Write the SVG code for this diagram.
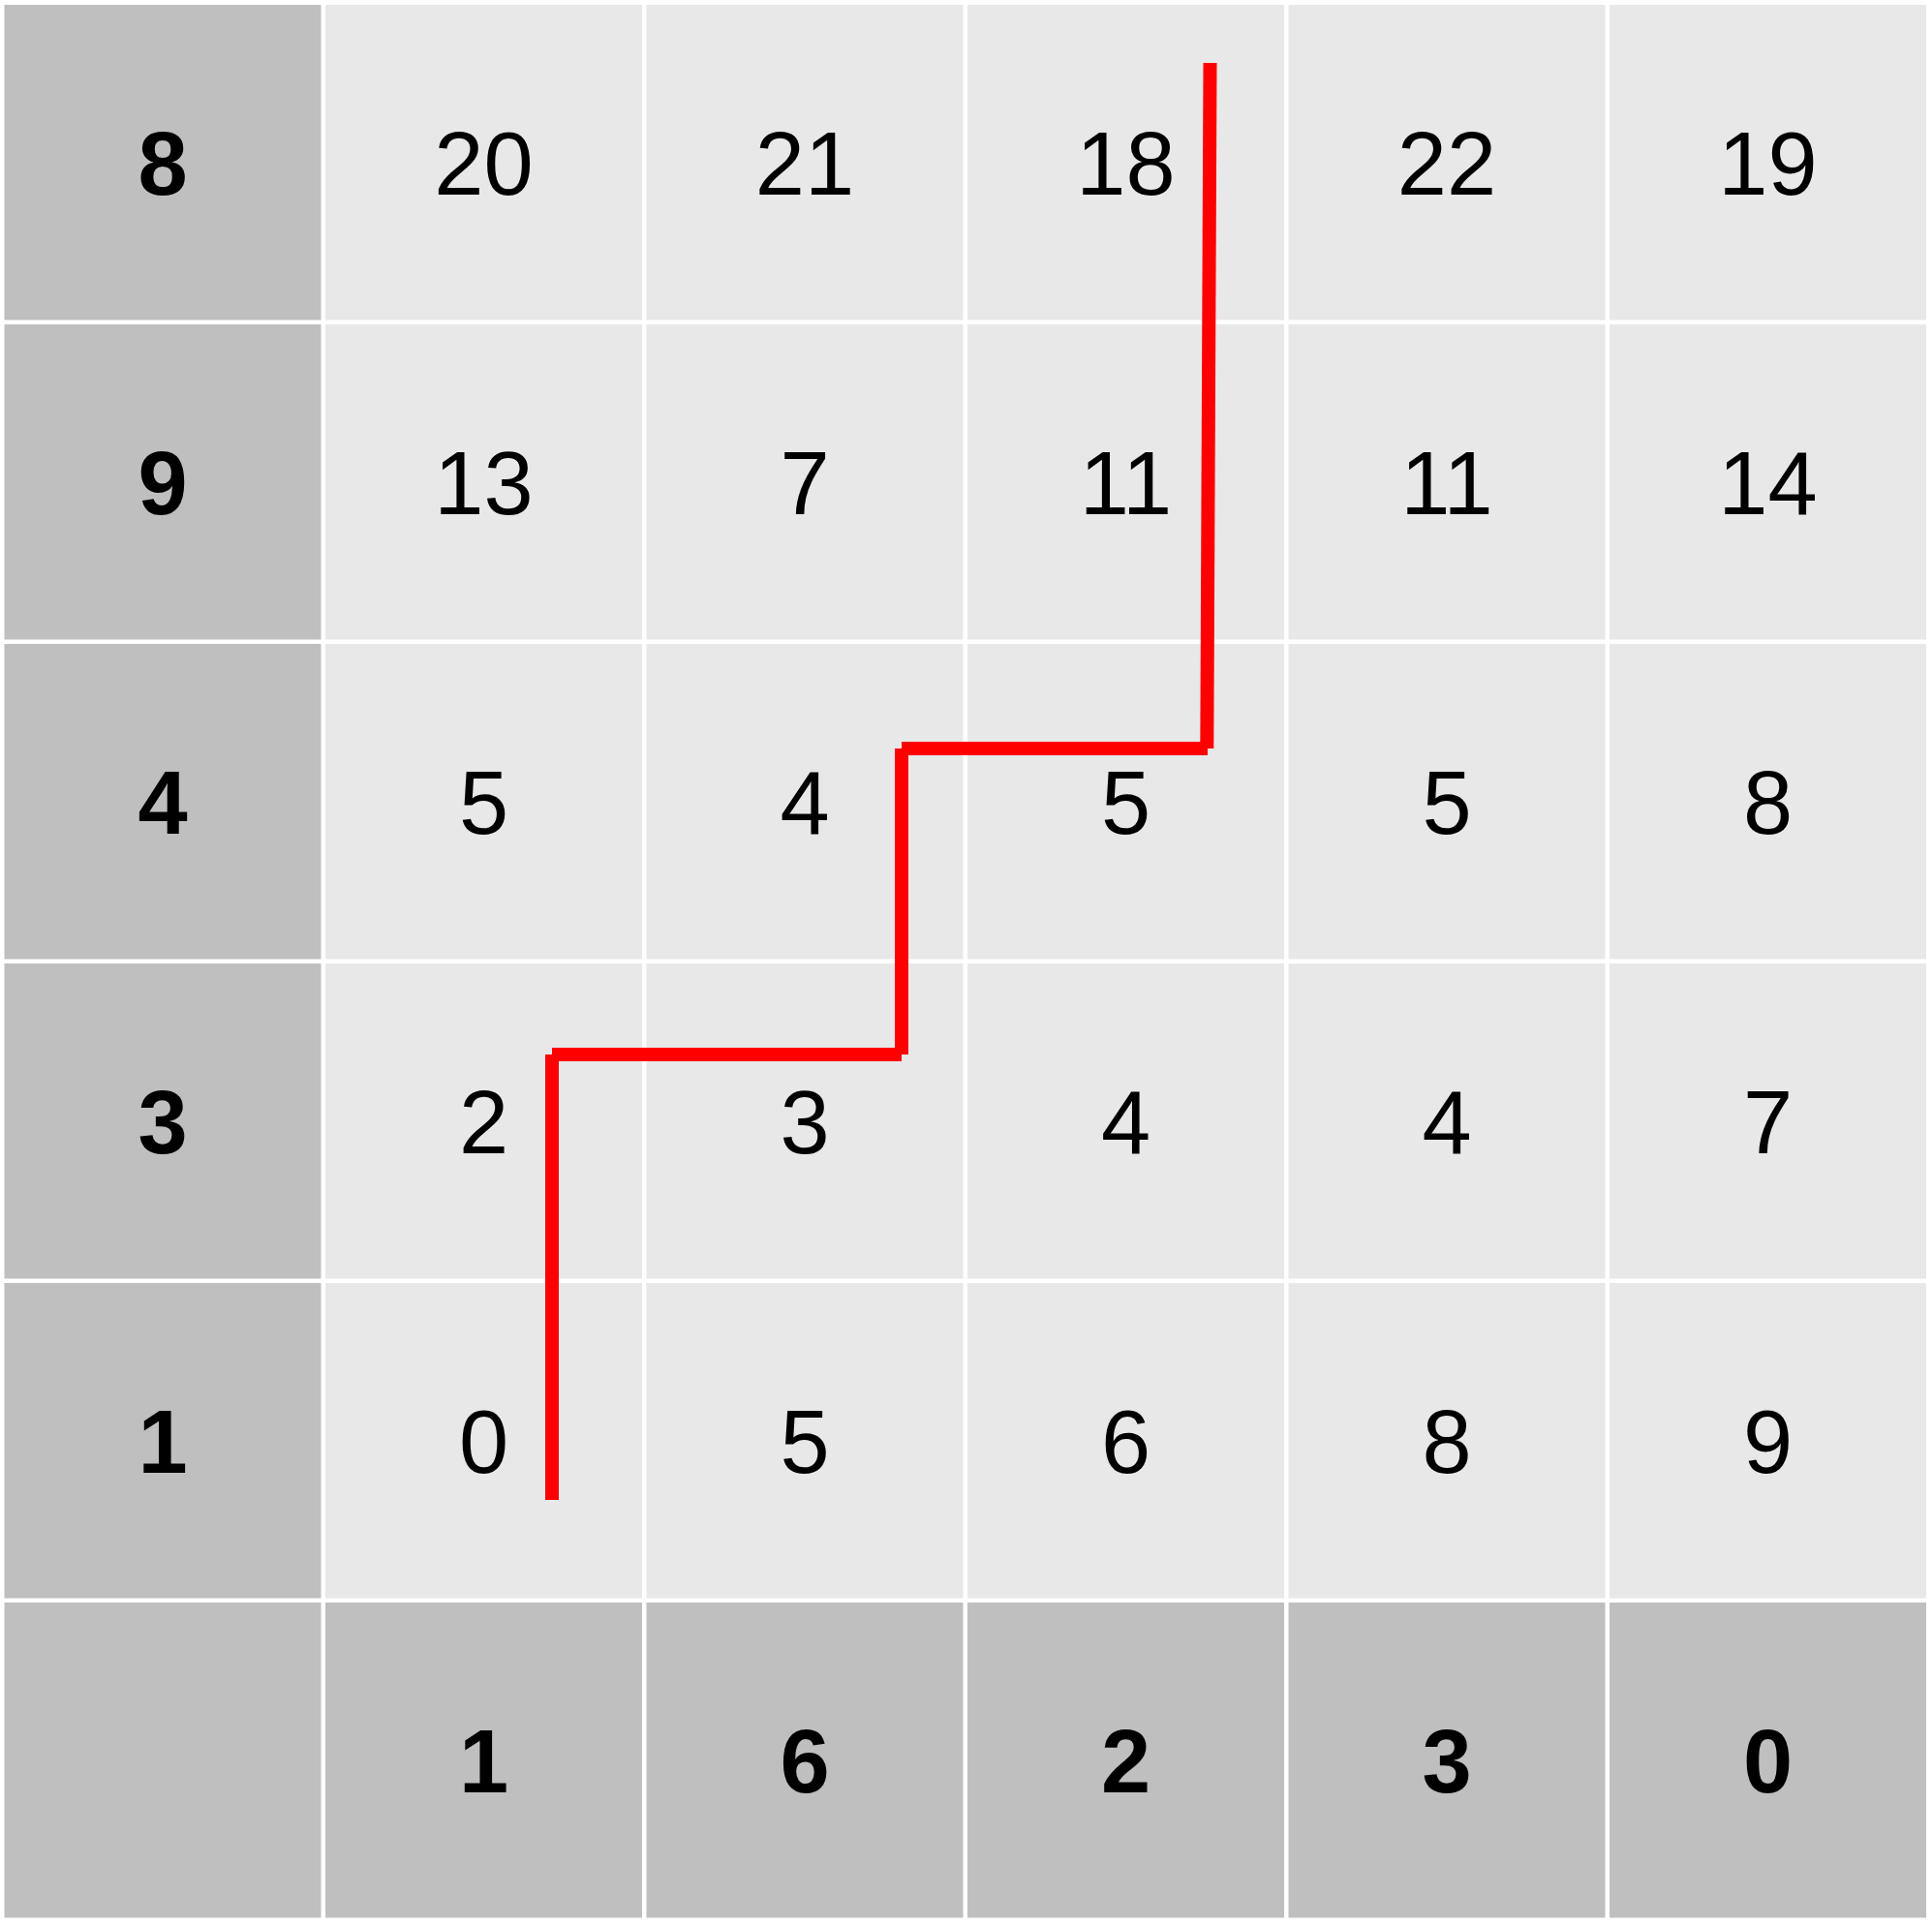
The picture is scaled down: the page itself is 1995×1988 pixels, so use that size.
<svg xmlns="http://www.w3.org/2000/svg" width="1995" height="1988" viewBox="0 0 1995 1988">
<style>
.hd{fill:#bfbfbf}
.cl{fill:#e8e8e8}
text{font-family:"Liberation Sans",Arial,sans-serif;font-size:92px;fill:#000;text-anchor:middle}
.b{font-weight:bold}
.path line{stroke:#ff0000;stroke-width:14;stroke-linecap:butt}
</style>
<rect width="1995" height="1988" fill="#ffffff"/>
<g id="row0">
<g id="r0c0"><rect class="hd" x="4.5" y="5" width="327" height="325.5"/><text class="b" x="168" y="201">8</text></g>
<g id="r0c1"><rect class="cl" x="336" y="5" width="327" height="325.5"/><text x="499.5" y="201">20</text></g>
<g id="r0c2"><rect class="cl" x="667.5" y="5" width="327" height="325.5"/><text x="831" y="201">21</text></g>
<g id="r0c3"><rect class="cl" x="999" y="5" width="327" height="325.5"/><text x="1162.5" y="201">18</text></g>
<g id="r0c4"><rect class="cl" x="1330.5" y="5" width="327" height="325.5"/><text x="1494" y="201">22</text></g>
<g id="r0c5"><rect class="cl" x="1662" y="5" width="327" height="325.5"/><text x="1825.5" y="201">19</text></g>
</g>
<g id="row1">
<g id="r1c0"><rect class="hd" x="4.5" y="335" width="327" height="325.5"/><text class="b" x="168" y="531">9</text></g>
<g id="r1c1"><rect class="cl" x="336" y="335" width="327" height="325.5"/><text x="499.5" y="531">13</text></g>
<g id="r1c2"><rect class="cl" x="667.5" y="335" width="327" height="325.5"/><text x="831" y="531">7</text></g>
<g id="r1c3"><rect class="cl" x="999" y="335" width="327" height="325.5"/><text x="1162.5" y="531">11</text></g>
<g id="r1c4"><rect class="cl" x="1330.5" y="335" width="327" height="325.5"/><text x="1494" y="531">11</text></g>
<g id="r1c5"><rect class="cl" x="1662" y="335" width="327" height="325.5"/><text x="1825.5" y="531">14</text></g>
</g>
<g id="row2">
<g id="r2c0"><rect class="hd" x="4.5" y="665" width="327" height="325.5"/><text class="b" x="168" y="861">4</text></g>
<g id="r2c1"><rect class="cl" x="336" y="665" width="327" height="325.5"/><text x="499.5" y="861">5</text></g>
<g id="r2c2"><rect class="cl" x="667.5" y="665" width="327" height="325.5"/><text x="831" y="861">4</text></g>
<g id="r2c3"><rect class="cl" x="999" y="665" width="327" height="325.5"/><text x="1162.5" y="861">5</text></g>
<g id="r2c4"><rect class="cl" x="1330.5" y="665" width="327" height="325.5"/><text x="1494" y="861">5</text></g>
<g id="r2c5"><rect class="cl" x="1662" y="665" width="327" height="325.5"/><text x="1825.5" y="861">8</text></g>
</g>
<g id="row3">
<g id="r3c0"><rect class="hd" x="4.5" y="995" width="327" height="325.5"/><text class="b" x="168" y="1191">3</text></g>
<g id="r3c1"><rect class="cl" x="336" y="995" width="327" height="325.5"/><text x="499.5" y="1191">2</text></g>
<g id="r3c2"><rect class="cl" x="667.5" y="995" width="327" height="325.5"/><text x="831" y="1191">3</text></g>
<g id="r3c3"><rect class="cl" x="999" y="995" width="327" height="325.5"/><text x="1162.5" y="1191">4</text></g>
<g id="r3c4"><rect class="cl" x="1330.5" y="995" width="327" height="325.5"/><text x="1494" y="1191">4</text></g>
<g id="r3c5"><rect class="cl" x="1662" y="995" width="327" height="325.5"/><text x="1825.5" y="1191">7</text></g>
</g>
<g id="row4">
<g id="r4c0"><rect class="hd" x="4.5" y="1325" width="327" height="325.5"/><text class="b" x="168" y="1521">1</text></g>
<g id="r4c1"><rect class="cl" x="336" y="1325" width="327" height="325.5"/><text x="499.5" y="1521">0</text></g>
<g id="r4c2"><rect class="cl" x="667.5" y="1325" width="327" height="325.5"/><text x="831" y="1521">5</text></g>
<g id="r4c3"><rect class="cl" x="999" y="1325" width="327" height="325.5"/><text x="1162.5" y="1521">6</text></g>
<g id="r4c4"><rect class="cl" x="1330.5" y="1325" width="327" height="325.5"/><text x="1494" y="1521">8</text></g>
<g id="r4c5"><rect class="cl" x="1662" y="1325" width="327" height="325.5"/><text x="1825.5" y="1521">9</text></g>
</g>
<g id="row5">
<g id="r5c0"><rect class="hd" x="4.5" y="1655" width="327" height="325.5"/></g>
<g id="r5c1"><rect class="hd" x="336" y="1655" width="327" height="325.5"/><text class="b" x="499.5" y="1851">1</text></g>
<g id="r5c2"><rect class="hd" x="667.5" y="1655" width="327" height="325.5"/><text class="b" x="831" y="1851">6</text></g>
<g id="r5c3"><rect class="hd" x="999" y="1655" width="327" height="325.5"/><text class="b" x="1162.5" y="1851">2</text></g>
<g id="r5c4"><rect class="hd" x="1330.5" y="1655" width="327" height="325.5"/><text class="b" x="1494" y="1851">3</text></g>
<g id="r5c5"><rect class="hd" x="1662" y="1655" width="327" height="325.5"/><text class="b" x="1825.5" y="1851">0</text></g>
</g>
<g id="connectors" class="path">
<line x1="1249.5" y1="65" x2="1246.3" y2="773"/>
<line x1="931" y1="773" x2="1247" y2="773"/>
<line x1="931" y1="773" x2="931" y2="1089"/>
<line x1="570" y1="1089" x2="931" y2="1089"/>
<line x1="570" y1="1089" x2="570" y2="1549"/>
</g>
</svg>
